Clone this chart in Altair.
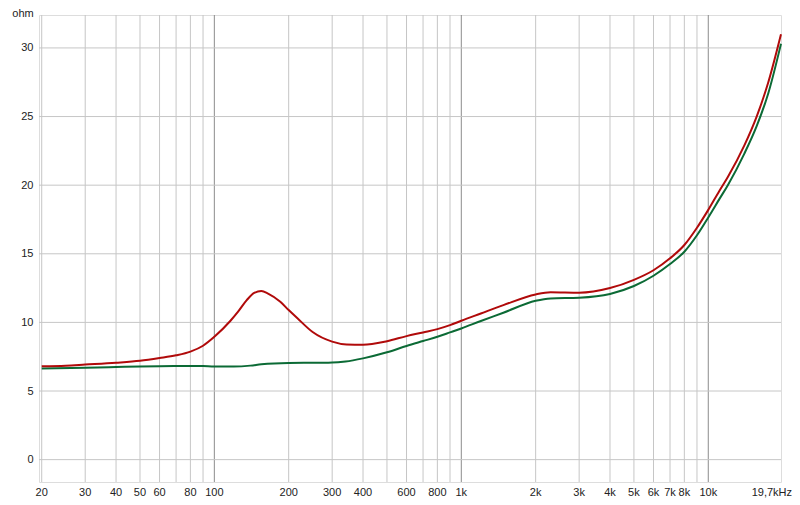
import altair as alt
import pandas as pd

# ---- data ----
red_f = [20, 25, 30, 40, 50, 60, 70, 80, 90, 100, 116, 125, 135, 145, 155, 165, 185, 200, 217, 250,
         300, 343, 400, 500, 600, 700, 800, 900, 1000, 1200, 1480, 2000, 2300, 3000, 4000, 5000,
         6000, 7000, 8000, 9000, 10000, 11100, 12000, 14000, 15700, 17500, 19700]
red_v = [6.8, 6.85, 6.93, 7.06, 7.2, 7.4, 7.6, 7.87, 8.3, 8.95, 10.1, 10.8, 11.6, 12.15, 12.28, 12.1, 11.5, 10.9, 10.3, 9.3,
         8.6, 8.39, 8.37, 8.63, 9.0, 9.27, 9.51, 9.8, 10.12, 10.65, 11.26, 12.04, 12.2, 12.16, 12.5, 13.1,
         13.8, 14.67, 15.64, 16.9, 18.2, 19.6, 20.6, 22.9, 25.0, 27.5, 31.0]

green_f = [20, 30, 40, 50, 60, 70, 80, 90, 100, 120, 140, 155, 200, 250, 300, 340, 400, 500, 600, 700,
           800, 900, 1000, 1200, 1480, 2000, 2300, 3000, 4000, 5000, 6000, 7000, 8000, 9000, 10000,
           11100, 12000, 14000, 15700, 17500, 19700]
green_v = [6.64, 6.7, 6.75, 6.79, 6.81, 6.82, 6.83, 6.82, 6.78, 6.78, 6.85, 6.95, 7.05, 7.06, 7.07, 7.15, 7.38, 7.82, 8.28, 8.64,
           8.95, 9.27, 9.56, 10.1, 10.7, 11.58, 11.75, 11.8, 12.07, 12.65, 13.4, 14.25, 15.15, 16.35, 17.65,
           19.0, 20.0, 22.3, 24.3, 26.7, 30.3]

grid_f = [20, 30, 40, 50, 60, 70, 80, 90, 100, 200, 300, 400, 500, 600, 700, 800, 900,
          1000, 2000, 3000, 4000, 5000, 6000, 7000, 8000, 9000, 10000]
major_f = [100, 1000, 10000]

xlab_f = [20, 30, 40, 50, 60, 80, 100, 200, 300, 400, 600, 800, 1000, 2000, 3000, 4000,
          5000, 6000, 7000, 8000, 10000]
xlab_t = ["20", "30", "40", "50", "60", "80", "100", "200", "300", "400", "600", "800", "1k", "2k",
          "3k", "4k", "5k", "6k", "7k", "8k", "10k"]
last_f = [19700]
last_t = ["19,7kHz"]

y_ticks = [0, 5, 10, 15, 20, 25, 30]

W, H = 742, 467
FONT = "Liberation Sans"

xs = alt.Scale(type="log", domain=[19.5, 19700], nice=False)
ys = alt.Scale(domain=[-1.63, 32.4], nice=False, zero=False)
yaxis = alt.Axis(values=y_ticks, ticks=False, domain=False, grid=False, title=None,
                 labelFontSize=11, labelFont=FONT, labelColor="#222222", labelPadding=6)

vg = pd.DataFrame({"f": grid_f,
                   "kind": ["major" if f in major_f else "minor" for f in grid_f]})
vrules = alt.Chart(vg).mark_rule(strokeWidth=1).encode(
    x=alt.X("f:Q", scale=xs, axis=None),
    color=alt.Color("kind:N", scale=alt.Scale(domain=["minor", "major"],
                                              range=["#c6c6c6", "#8c8c8c"]), legend=None),
)

hg = pd.DataFrame({"v": y_ticks})
hrules = alt.Chart(hg).mark_rule(strokeWidth=1, color="#c6c6c6").encode(
    y=alt.Y("v:Q", scale=ys, axis=yaxis),
)

lines_df = pd.concat([
    pd.DataFrame({"f": green_f, "v": green_v, "s": "green"}),
    pd.DataFrame({"f": red_f, "v": red_v, "s": "red"}),
])
lines = alt.Chart(lines_df).mark_line(strokeWidth=2, interpolate="monotone").encode(
    x=alt.X("f:Q", scale=xs, axis=None),
    y=alt.Y("v:Q", scale=ys, axis=yaxis),
    color=alt.Color("s:N", scale=alt.Scale(domain=["green", "red"],
                                           range=["#0b6a35", "#b00a0a"]), legend=None),
    order=alt.Order("f:Q"),
    detail="s:N",
)

xl = alt.Chart(pd.DataFrame({"f": xlab_f, "t": xlab_t})).mark_text(
    fontSize=11, font=FONT, color="#222222", baseline="middle").encode(
    x=alt.X("f:Q", scale=xs, axis=None), y=alt.value(H + 11), text="t:N")

xl2 = alt.Chart(pd.DataFrame({"f": last_f, "t": last_t})).mark_text(
    fontSize=11, font=FONT, color="#222222", baseline="middle", align="right", dx=11).encode(
    x=alt.X("f:Q", scale=xs, axis=None), y=alt.value(H + 11), text="t:N")

unit = alt.Chart(pd.DataFrame({"t": ["ohm"]})).mark_text(
    fontSize=11, font=FONT, color="#222222", baseline="alphabetic").encode(
    x=alt.value(-16), y=alt.value(2), text="t:N")

chart = alt.layer(vrules, hrules, lines, xl, xl2, unit).resolve_scale(
    color="independent"
).properties(
    width=W, height=H,
    autosize=alt.AutoSizeParams(type="none"),
    padding={"left": 31, "top": 7, "right": 11, "bottom": 18},
).configure_view(stroke="#a4a4a4", strokeWidth=2.5).configure(background="white")

chart.save("out.html", embed_options={"renderer": "svg", "actions": False})
